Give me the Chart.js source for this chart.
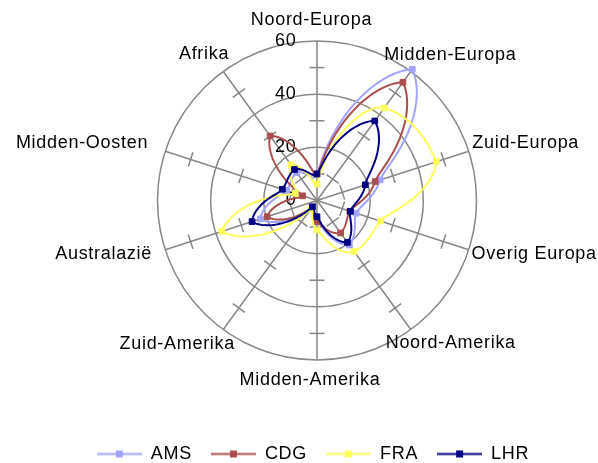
<!DOCTYPE html>
<html>
<head>
<meta charset="utf-8">
<script src="https://cdn.jsdelivr.net/npm/chart.js@4.4.1/dist/chart.umd.min.js"></script>
<style>
  html, body { margin: 0; padding: 0; background: #ffffff; }
  #wrap { width: 598px; height: 463px; }
</style>
</head>
<body>
<div id="wrap"><canvas id="chart" width="598" height="463"></canvas></div>
<script>
// Passenger share per destination region, by airport (%)
const regions = ['Noord-Europa', 'Midden-Europa', 'Zuid-Europa', 'Overig Europa', 'Noord-Amerika',
                 'Midden-Amerika', 'Zuid-Amerika', 'Australazië', 'Midden-Oosten', 'Afrika'];
const airports = ['AMS', 'CDG', 'FRA', 'LHR'];
const ams = [10, 61, 25, 15.5, 20.7, 7, 3, 22.4, 12, 13];
const cdg = [10, 55, 23, 13, 15.1, 8, 3, 19.7, 5.7, 30];
const fra = [6.2, 43, 47.2, 25.1, 23.7, 11.1, 4, 37.6, 8.6, 16.6];
const lhr = [10, 37, 19.1, 13.2, 19.5, 6.1, 3, 25.7, 13.7, 14.4];
const valueTicks = [0, 20, 40, 60];
const minorTicks = [10, 30, 50];

const seriesValues = [ams, cdg, fra, lhr];
const seriesColors = ['#a3a3ff', '#a9504e', '#ffff5a', '#000080'];

const FONT_FAMILY = '"Liberation Sans", Arial, sans-serif';
const FONT = '18px ' + FONT_FAMILY;
const LETTER_SPACING = '0.7px';
const GRID_COLOR = '#878787';
const SMOOTHING = 0.25;     // tangent factor of the angular spline
const PEAK_SLOPE = 0.6;     // share of the one-sided slope kept at a peak
const STEPS = 30;           // samples per segment between two spokes

// label centre relative to the outer end of its spoke
const labelOffsets = [
  [-5.5, -21], [39.5, -16.5], [57, -8], [65.5, 4], [40, 13.5],
  [-7, 20], [-46, 14.5], [-61.7, 4], [-83.3, -8], [-19.2, -17.5]
];

// legend swatch: a short line with a square marker in the middle
function legendSwatch(color) {
  const c = document.createElement('canvas');
  c.width = 45; c.height = 9;
  const g = c.getContext('2d');
  g.strokeStyle = color; g.lineWidth = 2;
  g.beginPath(); g.moveTo(0, 4.5); g.lineTo(45, 4.5); g.stroke();
  g.fillStyle = color;
  g.fillRect(19, 1, 7, 7);
  return c;
}
const swatches = seriesColors.map(legendSwatch);

function applySpacing(ctx) {
  if ('letterSpacing' in ctx) ctx.letterSpacing = LETTER_SPACING;
}

function hermite(r0, r1, m0, m1, t) {
  const t2 = t * t, t3 = t2 * t;
  return (2 * t3 - 3 * t2 + 1) * r0 + (t3 - 2 * t2 + t) * m0 +
         (-2 * t3 + 3 * t2) * r1 + (t3 - t2) * m1;
}

// slope of the radius at spoke i, seen from the segment on side dir (+1 out, -1 in)
function slopeAt(v, i, dir) {
  const n = v.length;
  const prev = v[(i - 1 + n) % n], next = v[(i + 1) % n], cur = v[i];
  if (cur > prev && cur > next) {
    // keep peaks pointed
    return PEAK_SLOPE * (dir > 0 ? next - cur : cur - prev);
  }
  return SMOOTHING * (next - prev);
}

// series outline: radius interpolated smoothly against the angle
const polarLine = {
  id: 'polarLine',
  beforeDatasetDraw(chart, args) {
    const s = chart.scales.r;
    const ds = chart.data.datasets[args.index];
    const v = ds.data;
    const n = v.length;
    const ctx = chart.ctx;
    ctx.save();
    ctx.strokeStyle = ds.borderColor;
    ctx.lineWidth = 2;
    ctx.lineJoin = 'round';
    ctx.beginPath();
    for (let i = 0; i < n; i++) {
      const j = (i + 1) % n;
      const m0 = slopeAt(v, i, 1), m1 = slopeAt(v, j, -1);
      for (let k = 0; k <= STEPS; k++) {
        const t = k / STEPS;
        const r = Math.max(0, hermite(v[i], v[j], m0, m1, t));
        const p = s.getPointPositionForValue(i + t, r);
        if (i === 0 && k === 0) ctx.moveTo(p.x, p.y); else ctx.lineTo(p.x, p.y);
      }
    }
    ctx.closePath();
    ctx.stroke();
    ctx.restore();
  }
};

const radarDecor = {
  id: 'radarDecor',
  beforeUpdate(chart) { applySpacing(chart.ctx); },
  beforeDraw(chart) { applySpacing(chart.ctx); },
  beforeDatasetsDraw(chart) {
    const s = chart.scales.r;
    const ctx = chart.ctx;
    ctx.save();
    // cross marks on each spoke at the intermediate values
    ctx.strokeStyle = GRID_COLOR;
    ctx.lineWidth = 1.5;
    regions.forEach((_, i) => {
      const a = s.getIndexAngle(i) - Math.PI / 2;
      const nx = -Math.sin(a), ny = Math.cos(a);
      minorTicks.forEach(v => {
        const p = s.getPointPositionForValue(i, v);
        ctx.beginPath();
        ctx.moveTo(p.x - nx * 7.5, p.y - ny * 7.5);
        ctx.lineTo(p.x + nx * 7.5, p.y + ny * 7.5);
        ctx.stroke();
      });
    });
    // value labels beside the vertical spoke
    applySpacing(ctx);
    ctx.fillStyle = '#000000';
    ctx.font = FONT;
    ctx.textAlign = 'right';
    ctx.textBaseline = 'middle';
    valueTicks.forEach(v => {
      ctx.fillText(String(v), s.xCenter - 20.5, s.yCenter - s.getDistanceFromCenterForValue(v));
    });
    // region names around the outer ring
    ctx.textAlign = 'center';
    regions.forEach((name, i) => {
      const p = s.getPointPosition(i, s.drawingArea);
      const o = labelOffsets[i];
      ctx.fillText(name, p.x + o[0], p.y + o[1]);
    });
    ctx.restore();
  }
};

const datasets = airports.map((name, i) => ({
  label: name,
  data: seriesValues[i],
  borderColor: seriesColors[i],
  backgroundColor: seriesColors[i],
  pointBackgroundColor: seriesColors[i],
  pointBorderColor: seriesColors[i],
  fill: false,
  showLine: false,
  borderWidth: 2,
  pointStyle: 'rect',
  pointRadius: 4,
  pointBorderWidth: 1,
  pointHoverRadius: 4,
  order: airports.length - i
}));

new Chart(document.getElementById('chart'), {
  type: 'radar',
  data: { labels: regions, datasets },
  plugins: [radarDecor, polarLine],
  options: {
    responsive: false,
    animation: false,
    devicePixelRatio: 1,
    layout: { padding: { left: 28, right: 0, top: 0, bottom: 0 } },
    events: [],
    scales: {
      r: {
        min: 0,
        max: 60,
        ticks: { display: false, stepSize: 20 },
        pointLabels: { display: false },
        grid: { circular: true, color: GRID_COLOR, lineWidth: 1.5 },
        angleLines: { display: true, color: GRID_COLOR, lineWidth: 1.5 },
        afterFit(scale) {
          scale.xCenter = 317;
          scale.yCenter = 200.5;
          scale.drawingArea = 159.5;
        }
      }
    },
    plugins: {
      tooltip: { enabled: false },
      legend: {
        position: 'bottom',
        maxHeight: 37,
        labels: {
          usePointStyle: true,
          pointStyleWidth: 45,
          padding: 19,
          color: '#000000',
          font: { family: FONT_FAMILY, size: 18 },
          generateLabels: () => airports.map((name, i) => ({
            text: name,
            pointStyle: swatches[i],
            fillStyle: seriesColors[i],
            strokeStyle: seriesColors[i],
            lineWidth: 0,
            hidden: false,
            datasetIndex: i
          }))
        }
      }
    }
  }
});
</script>
</body>
</html>
